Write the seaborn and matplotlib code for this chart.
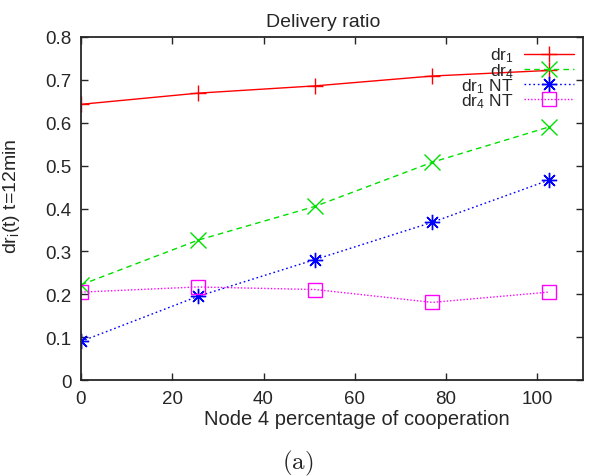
import pandas as pd
import matplotlib
matplotlib.use("Agg")
import matplotlib.pyplot as plt
import seaborn as sns

# values
coop = [0, 25.6, 51.3, 77, 102.5]
dr1 = [0.643, 0.669, 0.686, 0.709, 0.722]
dr4 = [0.222, 0.326, 0.405, 0.508, 0.59]
dr1_nt = [0.09, 0.195, 0.281, 0.368, 0.466]
dr4_nt = [0.205, 0.217, 0.211, 0.181, 0.205]

labels = ["dr$_1$", "dr$_4$", "dr$_1$ NT", "dr$_4$ NT"]
colors = ["#ff0000", "#00e000", "#0000ff", "#ff00ff"]
markers = ["+", "x", (8, 2, 0), "s"]
dashes = ["-", (0, (4, 3)), (0, (1.2, 2)), (0, (1, 1.4))]

sns.set_style("ticks")
plt.rcParams['font.family'] = ['Liberation Sans', 'DejaVu Sans']
plt.rcParams['mathtext.fontset'] = 'custom'
plt.rcParams['mathtext.rm'] = 'Liberation Sans'
plt.rcParams['mathtext.it'] = 'Liberation Sans'

fig = plt.figure(figsize=(5.95, 4.77), dpi=100)
ax = fig.add_axes([81 / 595, 1 - 381 / 477, (583 - 81) / 595, (381 - 38) / 477])

for vals, lab, c, m, ls in zip([dr1, dr4, dr1_nt, dr4_nt], labels, colors, markers, dashes):
    df = pd.DataFrame({"x": coop, "y": vals})
    sns.lineplot(data=df, x="x", y="y", ax=ax, color=c, marker=m, linestyle=ls,
                 linewidth=1, markersize=11 if m != "s" else 10, markeredgewidth=1,
                 markerfacecolor="none", markeredgecolor=c, label=lab)

ax.set_xlim(0, 110)
ax.set_ylim(0, 0.8)
ax.set_xticks([0, 20, 40, 60, 80, 100])
ax.set_yticks([0, 0.1, 0.2, 0.3, 0.4, 0.5, 0.6, 0.7, 0.8])
ax.set_yticklabels(["0", "0.1", "0.2", "0.3", "0.4", "0.5", "0.6", "0.7", "0.8"])
ax.tick_params(direction="in", top=True, right=True, length=5, width=1, labelsize=13.5, pad=7)
for s in ax.spines.values():
    s.set_linewidth(1.3)
    s.set_visible(True)

ax.set_title("Delivery ratio", fontsize=14, x=0.482, pad=8)
ax.set_xlabel("Node 4 percentage of cooperation", fontsize=14.5, labelpad=3)
ax.xaxis.set_label_coords(0.55, -0.085)
ax.set_ylabel("dr$_i$(t) t=12min", fontsize=14, labelpad=8)
ax.yaxis.set_label_coords(-0.118, 0.54)

leg = ax.legend(loc="upper right", frameon=False, markerfirst=False, fontsize=12.5,
                handlelength=2.9, handletextpad=0.6, labelspacing=-0.2,
                borderaxespad=0.2, borderpad=0.3)
for t in leg.get_texts():
    t.set_ha("right")
leg._legend_box.align = "right"

fig.text(0.5, 1 - 463 / 477, r"$\mathrm{(a)}$", ha="center", va="center", fontsize=18,
         math_fontfamily="cm")

fig.savefig("out.png", dpi=100)
